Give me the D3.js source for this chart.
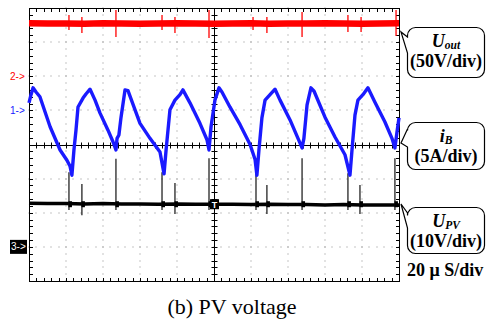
<!DOCTYPE html>
<html>
<head>
<meta charset="utf-8">
<script src="https://cdn.jsdelivr.net/npm/d3@7/dist/d3.min.js"></script>
<style>
  body { margin: 0; background: #fff; }
  text { font-family: "Liberation Serif", "Times New Roman", serif; }
</style>
</head>
<body>
<svg id="scope" width="487" height="322"></svg>
<script>
// time base: 20 us/div, 10 divisions
var timeSpan = [0, 200];
var divsX = 10, divsY = 8, minorPerDiv = 5;

// channel ground offset (div) and units per division
var ch1 = { id: "1", color: "#1a1aff", offset: 1, perDiv: 5 };   // iB
var ch2 = { id: "2", color: "#ff0000", offset: 2, perDiv: 50 };  // Uout
var ch3 = { id: "3", color: "#000000", offset: -3, perDiv: 10 }; // Upv

// iB (A), time in us
var blueT = [0, 1.1, 2.2, 3.8, 5.9, 11.4, 16.8, 20.5, 22.2, 23.2, 24.3, 25.4, 26.5, 29.2, 30.8, 33.0,
  35.7, 38.4, 42.7, 45.4, 47.0, 47.6, 48.6, 49.7, 51.9, 53.5, 60.0, 65.4, 70.8, 73.0, 74.1, 76.2,
  78.9, 81.6, 83.2, 87.0, 92.4, 96.2, 97.3, 98.4, 100.5, 102.7, 104.3, 108.6, 114.1, 119.5, 122.2,
  123.2, 124.3, 125.9, 127.6, 130.3, 133.0, 135.7, 141.1, 145.4, 147.6, 148.6, 150.3, 152.4, 154.1,
  160.0, 165.4, 170.8, 173.5, 174.6, 176.2, 177.8, 180.5, 183.2, 187.0, 192.4, 196.2, 197.8, 198.9, 200];
var blueI = [1.1, 2.3, 3.3, 2.7, 2.0, -2.4, -5.8, -7.3, -8.2, -9.5, -5.8, -2.9, 0.5, 1.8, 2.4, 3.1,
  1.5, -0.4, -2.9, -4.6, -5.8, -4.1, -3.6, -1.1, 3.0, 2.9, -1.9, -4.1, -6.1, -9.3, -5.8, 0.1,
  1.5, 2.3, 3.0, 1.1, -1.9, -4.3, -5.8, -2.4, 1.5, 3.3, 2.7, 0.5, -2.1, -5.0, -7.2,
  -9.5, -5.8, -1.1, 1.5, 2.3, 3.1, 1.5, -1.4, -4.1, -5.5, -4.1, 0.8, 3.3, 2.8,
  -1.0, -3.9, -6.5, -9.5, -5.8, -0.7, 1.5, 2.3, 3.3, 1.2, -1.7, -4.1, -5.5, -3.2, -1.1];

// Uout (V)
var redT = [0, 10, 20, 30, 40, 50, 60, 70, 80, 90, 100, 110, 120, 130, 140, 150, 160, 170, 180, 190, 200];
var redV = [77.6, 77.2, 77.4, 77.0, 77.5, 77.3, 77.1, 77.4, 77.6, 77.2, 77.0, 77.3, 77.5, 77.1, 77.4,
  77.2, 77.6, 77.3, 77.0, 77.4, 77.5];
// switching spikes on Uout: [t, high, low]
var redSpikes = [[21.6, 89.9, 67.9], [28.6, 86.9, 63.5], [47.0, 97.2, 57.6], [71.9, 89.9, 67.9],
  [78.9, 86.9, 63.5], [97.3, 97.2, 56.1], [121.1, 86.9, 67.9], [128.6, 86.9, 63.5], [147.6, 94.3, 57.6],
  [172.4, 89.9, 64.9], [179.5, 86.9, 64.9], [198.4, 97.2, 59.1]];

// Upv (V)
var blackT = [0, 10, 20, 30, 40, 50, 60, 70, 80, 90, 100, 110, 120, 130, 140, 150, 160, 170, 180, 190, 200];
var blackV = [12.8, 12.7, 12.7, 12.6, 12.7, 12.6, 12.6, 12.5, 12.6, 12.5, 12.5, 12.5, 12.4, 12.5, 12.4,
  12.4, 12.3, 12.4, 12.3, 12.3, 12.3];
var blackSpikes = [[21.6, 21.9, 10.8], [28.6, 18.4, 9.3], [47.0, 25.8, 10.8], [71.9, 21.9, 10.8],
  [78.9, 18.7, 9.6], [97.3, 26.0, 10.8], [122.7, 21.9, 10.8], [128.6, 18.1, 9.6], [147.6, 26.0, 10.8],
  [172.4, 21.6, 10.8], [178.9, 18.1, 9.6], [197.8, 26.0, 10.8]];

var labelMain = ["U", "i", "U"];
var labelSub = ["out", "B", "PV"];
var labelScale = ["(50V/div)", "(5A/div)", "(10V/div)"];
var timebaseText = "20 \u03bc S/div";
var captionText = "(b) PV voltage";

var svg = d3.select("#scope");
var x = d3.scaleLinear().domain(timeSpan).range([29, 399]);
var y = d3.scaleLinear().domain([-divsY / 2, divsY / 2]).range([281, 8]);
function yCh(ch, v) { return y(ch.offset + v / ch.perDiv); }

var tDiv = (timeSpan[1] - timeSpan[0]) / divsX;
var grid = svg.append("g");

// dotted graticule
d3.range(1, divsX).filter(function(i) { return i != divsX / 2; }).forEach(function(i) {
  d3.range(0, divsY * minorPerDiv + 1).forEach(function(k) {
    grid.append("rect").attr("x", Math.round(x(i * tDiv)) - 0.5).attr("y", Math.round(y(-4 + k / minorPerDiv)) - 0.5)
      .attr("width", 1).attr("height", 1).attr("fill", "#8a8a8a");
  });
});
d3.range(1, divsY).filter(function(j) { return j != divsY / 2; }).forEach(function(j) {
  d3.range(0, divsX * minorPerDiv + 1).forEach(function(k) {
    grid.append("rect").attr("x", Math.round(x(k * tDiv / minorPerDiv)) - 0.5).attr("y", Math.round(y(-4 + j)) - 0.5)
      .attr("width", 1).attr("height", 1).attr("fill", "#8a8a8a");
  });
});

// frame + ticks
grid.append("rect").attr("x", 29.5).attr("y", 8.5).attr("width", 370).attr("height", 273)
  .attr("fill", "none").attr("stroke", "#000").attr("stroke-width", 1);
var cx = Math.round(x(timeSpan[1] / 2)) + 0.5, cy = Math.round(y(0)) + 0.5;
grid.append("line").attr("x1", 29).attr("x2", 399).attr("y1", cy).attr("y2", cy).attr("stroke", "#000");
grid.append("line").attr("x1", cx).attr("x2", cx).attr("y1", 8).attr("y2", 281).attr("stroke", "#000");
d3.range(1, divsX * minorPerDiv).forEach(function(k) {
  var px = Math.round(x(k * tDiv / minorPerDiv)) + 0.5;
  grid.append("line").attr("x1", px).attr("x2", px).attr("y1", 9).attr("y2", 12).attr("stroke", "#000");
  grid.append("line").attr("x1", px).attr("x2", px).attr("y1", 278).attr("y2", 281).attr("stroke", "#000");
  grid.append("line").attr("x1", px).attr("x2", px).attr("y1", cy - 3).attr("y2", cy + 3).attr("stroke", "#000");
});
d3.range(1, divsY * minorPerDiv).forEach(function(k) {
  var py = Math.round(y(-4 + k / minorPerDiv)) + 0.5;
  grid.append("line").attr("x1", 30).attr("x2", 33).attr("y1", py).attr("y2", py).attr("stroke", "#000");
  grid.append("line").attr("x1", 396).attr("x2", 399).attr("y1", py).attr("y2", py).attr("stroke", "#000");
  grid.append("line").attr("x1", cx - 3).attr("x2", cx + 3).attr("y1", py).attr("y2", py).attr("stroke", "#000");
});

// traces
var traces = svg.append("g");
function lineFor(ch) {
  return d3.line().x(function(d) { return x(d[0]); }).y(function(d) { return yCh(ch, d[1]); });
}
// Uout
traces.append("path").attr("d", lineFor(ch2)(d3.zip(redT, redV)))
  .attr("fill", "none").attr("stroke", ch2.color).attr("stroke-width", 6.5);
traces.selectAll(".rspike").data(redSpikes).enter().append("line")
  .attr("x1", function(d) { return x(d[0]); }).attr("x2", function(d) { return x(d[0]); })
  .attr("y1", function(d) { return yCh(ch2, d[1]); }).attr("y2", function(d) { return yCh(ch2, d[2]); })
  .attr("stroke", ch2.color).attr("stroke-width", 1.3);

// Upv
traces.append("path").attr("d", lineFor(ch3)(d3.zip(blackT, blackV)))
  .attr("fill", "none").attr("stroke", ch3.color).attr("stroke-width", 3.5);
traces.selectAll(".bspike").data(blackSpikes).enter().append("line")
  .attr("x1", function(d) { return x(d[0]); }).attr("x2", function(d) { return x(d[0]); })
  .attr("y1", function(d) { return yCh(ch3, d[1]); }).attr("y2", function(d) { return yCh(ch3, d[2]); })
  .attr("stroke", "#111").attr("stroke-width", 1.2);
traces.selectAll(".bburst").data(blackSpikes).enter().append("line")
  .attr("x1", function(d) { return x(d[0]) - 0.5; }).attr("x2", function(d) { return x(d[0]) + 3; })
  .attr("y1", function(d) { return yCh(ch3, 12.5); }).attr("y2", function(d) { return yCh(ch3, 12.5); })
  .attr("stroke", "#000").attr("stroke-width", 6);

// iB
traces.append("path").attr("d", lineFor(ch1)(d3.zip(blueT, blueI)))
  .attr("fill", "none").attr("stroke", ch1.color).attr("stroke-width", 3.4)
  .attr("stroke-linejoin", "round");

// trigger marker
var trig = svg.append("g").attr("transform", "translate(" + (cx - 4.5) + "," + (yCh(ch3, 12.5) - 5) + ")");
trig.append("rect").attr("width", 9).attr("height", 10).attr("fill", "#000");
trig.append("text").attr("x", 4.5).attr("y", 8.5).attr("text-anchor", "middle").attr("fill", "#fff")
  .style("font-family", "Liberation Sans, Arial, sans-serif").style("font-size", "9px").style("font-weight", "bold").text("T");

// channel ground markers
[ch2, ch1].forEach(function(ch) {
  svg.append("text").attr("x", 10).attr("y", yCh(ch, 0) + 3.5).attr("fill", ch.color)
    .style("font-family", "Liberation Sans, Arial, sans-serif").style("font-size", "10px").text(ch.id + "->");
});
svg.append("rect").attr("x", 10).attr("y", yCh(ch3, 0) - 7).attr("width", 17).attr("height", 14).attr("fill", "#000");
svg.append("text").attr("x", 11).attr("y", yCh(ch3, 0) + 3.5).attr("fill", "#fff")
  .style("font-family", "Liberation Sans, Arial, sans-serif").style("font-size", "10px").text(ch3.id + "->");

// callout boxes
var boxTop = [27, 122, 207], boxH = [50, 47, 46], tipY = [32, 143, 204], joinY = [[37, 53], [129, 147], [213, 228]];
labelMain.forEach(function(m, i) {
  var x0 = 407.5, w = 77, y0 = boxTop[i] + 0.5, h = boxH[i], r = 8;
  var p = d3.path();
  p.moveTo(x0 + r, y0);
  p.lineTo(x0 + w - r, y0); p.arcTo(x0 + w, y0, x0 + w, y0 + r, r);
  p.lineTo(x0 + w, y0 + h - r); p.arcTo(x0 + w, y0 + h, x0 + w - r, y0 + h, r);
  p.lineTo(x0 + r, y0 + h); p.arcTo(x0, y0 + h, x0, y0 + h - r, r);
  p.lineTo(x0, joinY[i][1]); p.lineTo(401, tipY[i]); p.lineTo(x0, joinY[i][0]);
  p.lineTo(x0, y0 + r); p.arcTo(x0, y0, x0 + r, y0, r);
  p.closePath();
  svg.append("path").attr("d", p.toString()).attr("fill", "#fff").attr("stroke", "#000").attr("stroke-width", 1.2);
  var t = svg.append("text").attr("x", x0 + w / 2).attr("y", y0 + 19).attr("text-anchor", "middle")
    .style("font-size", "18px").style("font-weight", "bold").style("font-style", "italic");
  t.append("tspan").text(m);
  t.append("tspan").attr("dy", 2).style("font-size", "11.5px").text(labelSub[i]);
  svg.append("text").attr("x", x0 + w / 2).attr("y", y0 + 39).attr("text-anchor", "middle")
    .style("font-size", "18px").style("font-weight", "bold").text(labelScale[i]);
});

svg.append("text").attr("x", 407).attr("y", 276).style("font-size", "18px").style("font-weight", "bold").text(timebaseText);
svg.append("text").attr("x", 232).attr("y", 314).attr("text-anchor", "middle").style("font-size", "22px").text(captionText);
</script>
</body>
</html>
